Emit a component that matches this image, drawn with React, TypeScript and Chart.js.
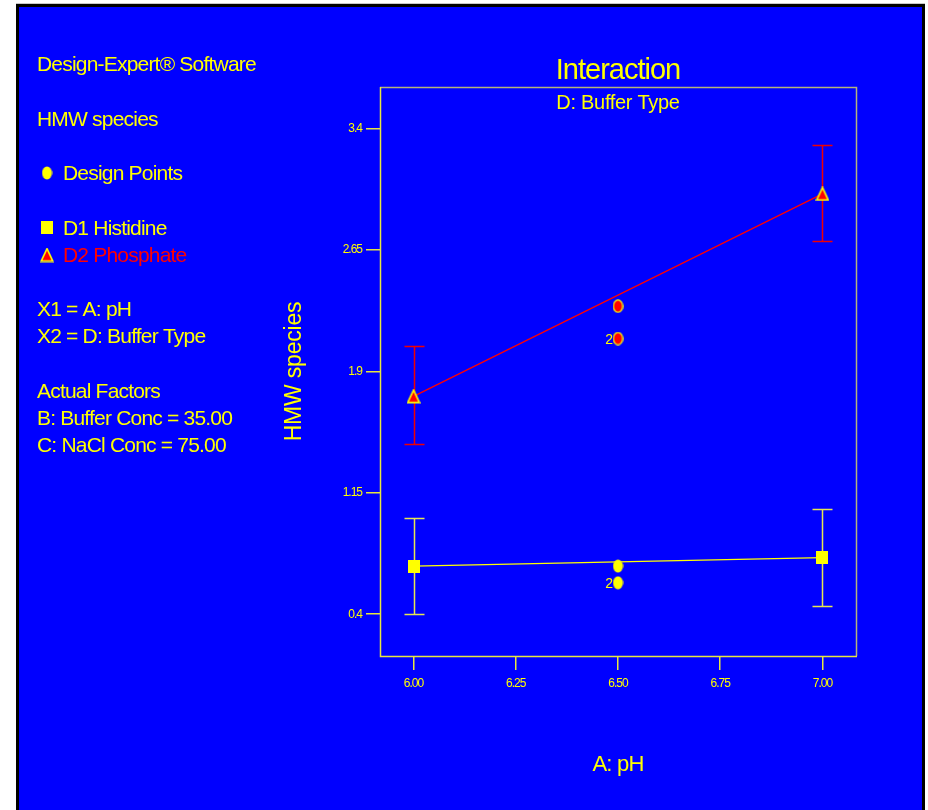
import React, { useEffect, useRef } from "react";
import { Chart, registerables } from "chart.js";

Chart.register(...registerables);

// ---------------- data ----------------
const phLevels = [6.0, 7.0];
const histidineMean = [0.697, 0.749];
const histidineLow = [0.4, 0.452];
const histidineHigh = [0.996, 1.047];
const phosphateMean = [1.745, 2.995];
const phosphateLow = [1.449, 2.702];
const phosphateHigh = [2.054, 3.295];

const designPh = [6.5, 6.5];
const histidineDesign = [0.697, 0.594];
const phosphateDesign = [2.302, 2.102];
const designCounts = [1, 2];

const xTicks = [6.0, 6.25, 6.5, 6.75, 7.0];
const xTickLabels = ["6.00", "6.25", "6.50", "6.75", "7.00"];
const yTicks = [0.4, 1.15, 1.9, 2.65, 3.4];
const yTickLabels = ["0.4", "1.15", "1.9", "2.65", "3.4"];
const xRange = [5.918, 7.082];
const yRange = [0.142, 3.655];

const chartTitle = "Interaction";
const chartSubtitle = "D: Buffer Type";
const xAxisTitle = "A: pH";
const yAxisTitle = "HMW species";
const softwareLine = "Design-Expert\u00AE Software";
const responseLine = "HMW species";
const designPointsLabel = "Design Points";
const histidineLabel = "D1 Histidine";
const phosphateLabel = "D2 Phosphate";
const factorLines = ["X1 = A: pH", "X2 = D: Buffer Type"];
const actualFactorLines = ["Actual Factors", "B: Buffer Conc = 35.00", "C: NaCl Conc = 75.00"];

// ---------------- styles ----------------
const W = 928;
const H = 810;
const FONT = '"Liberation Sans", Arial, sans-serif';
const YELLOW = "#ffff00";
const RED = "#ff0000";
const BLUE = "#0000ff";

function makeMarker(w: number, h: number, draw: (c: CanvasRenderingContext2D) => void) {
  const c = document.createElement("canvas");
  c.width = w;
  c.height = h;
  const g = c.getContext("2d")!;
  draw(g);
  return c;
}

const ellipseYellow = makeMarker(11, 14, (g) => {
  g.fillStyle = YELLOW;
  g.beginPath();
  g.ellipse(5.5, 7, 5, 6.5, 0, 0, Math.PI * 2);
  g.fill();
});
const ellipseRed = makeMarker(11, 14, (g) => {
  g.fillStyle = RED;
  g.strokeStyle = YELLOW;
  g.lineWidth = 1.3;
  g.beginPath();
  g.ellipse(5.5, 7, 4.6, 6.1, 0, 0, Math.PI * 2);
  g.fill();
  g.stroke();
});
const squareYellow = makeMarker(12, 13, (g) => {
  g.fillStyle = YELLOW;
  g.fillRect(0, 0, 12, 13);
});
const triangleRed = makeMarker(14, 15, (g) => {
  g.fillStyle = RED;
  g.strokeStyle = YELLOW;
  g.lineWidth = 1.6;
  g.beginPath();
  g.moveTo(7, 1.2);
  g.lineTo(12.8, 13.6);
  g.lineTo(1.2, 13.6);
  g.closePath();
  g.fill();
  g.stroke();
});

const backgroundPlugin = {
  id: "bgFrame",
  beforeDraw(chart: any) {
    const ctx = chart.ctx;
    ctx.save();
    ctx.fillStyle = "#ffffff";
    ctx.fillRect(0, 0, W, H);
    ctx.fillStyle = "#c8c8c8";
    ctx.fillRect(16, 3, 909, 1);
    ctx.fillStyle = "#000000";
    ctx.fillRect(16, 4, 909, H - 4);
    ctx.fillStyle = BLUE;
    ctx.fillRect(19, 7, 903, H - 7);
    ctx.restore();
    ctx.letterSpacing = "-1px";
  },
};

const errorBarPlugin = {
  id: "errorBars",
  beforeDatasetsDraw(chart: any) {
    const ctx = chart.ctx;
    const xs = chart.scales.x;
    const ys = chart.scales.y;
    const groups = [
      { low: histidineLow, high: histidineHigh, color: "#e6e650" },
      { low: phosphateLow, high: phosphateHigh, color: "#f00000" },
    ];
    ctx.save();
    groups.forEach((g) => {
      ctx.strokeStyle = g.color;
      ctx.lineWidth = 1.5;
      phLevels.forEach((v, i) => {
        const x = Math.round(xs.getPixelForValue(v)) + 0.5;
        const y1 = Math.round(ys.getPixelForValue(g.high[i])) + 0.5;
        const y2 = Math.round(ys.getPixelForValue(g.low[i])) + 0.5;
        ctx.beginPath();
        ctx.moveTo(x, y1);
        ctx.lineTo(x, y2);
        ctx.moveTo(x - 10, y1);
        ctx.lineTo(x + 10, y1);
        ctx.moveTo(x - 10, y2);
        ctx.lineTo(x + 10, y2);
        ctx.stroke();
      });
    });
    ctx.restore();
  },
  afterDatasetsDraw(chart: any) {
    const ctx = chart.ctx;
    ctx.save();
    ctx.letterSpacing = "0px";
    ctx.fillStyle = YELLOW;
    ctx.font = `14px ${FONT}`;
    ctx.textAlign = "right";
    ctx.textBaseline = "alphabetic";
    [0, 1].forEach((di) => {
      const meta = chart.getDatasetMeta(di);
      meta.data.forEach((pt: any, i: number) => {
        if (designCounts[i] > 1) {
          ctx.fillText(String(designCounts[i]), pt.x - 5, pt.y + 5.5);
        }
      });
    });
    ctx.restore();
  },
};

const textPlugin = {
  id: "texts",
  afterDraw(chart: any) {
    const ctx = chart.ctx;
    const a = chart.chartArea;
    ctx.save();
    // frame around plot
    ctx.lineWidth = 1.5;
    ctx.strokeStyle = "#b4b47c";
    ctx.beginPath();
    ctx.moveTo(a.left, a.top + 0.5);
    ctx.lineTo(a.right + 0.5, a.top + 0.5);
    ctx.lineTo(a.right + 0.5, a.bottom);
    ctx.stroke();
    ctx.strokeStyle = "#e6e640";
    ctx.beginPath();
    ctx.moveTo(a.left + 0.5, a.top);
    ctx.lineTo(a.left + 0.5, a.bottom + 0.5);
    ctx.lineTo(a.right + 1, a.bottom + 0.5);
    ctx.stroke();

    const cx = (a.left + a.right) / 2;
    const cy = (a.top + a.bottom) / 2;
    ctx.fillStyle = YELLOW;
    ctx.textBaseline = "alphabetic";
    ctx.textAlign = "center";
    ctx.font = `29px ${FONT}`;
    ctx.letterSpacing = "-1px";
    ctx.fillText(chartTitle, cx, 78.5);
    ctx.font = `20px ${FONT}`;
    ctx.letterSpacing = "-0.3px";
    ctx.fillText(chartSubtitle, cx, 108.5);
    ctx.font = `22px ${FONT}`;
    ctx.letterSpacing = "-0.8px";
    ctx.fillText(xAxisTitle, cx, 771);
    ctx.save();
    ctx.translate(301, cy);
    ctx.rotate(-Math.PI / 2);
    ctx.font = `23px ${FONT}`;
    ctx.letterSpacing = "-0.2px";
    ctx.fillText(yAxisTitle, 0, 0);
    ctx.restore();

    // side annotation
    ctx.textAlign = "left";
    ctx.font = `21px ${FONT}`;
    ctx.letterSpacing = "-0.8px";
    ctx.fillText(softwareLine, 37, 70.5);
    ctx.fillText(responseLine, 37, 125.5);
    ctx.fillText(designPointsLabel, 63, 179.5);
    ctx.fillText(histidineLabel, 63, 234.5);
    ctx.fillStyle = RED;
    ctx.fillText(phosphateLabel, 63, 261.5);
    ctx.fillStyle = YELLOW;
    factorLines.forEach((t, i) => ctx.fillText(t, 37, 315.5 + i * 27));
    actualFactorLines.forEach((t, i) => ctx.fillText(t, 37, 397.5 + i * 27));
    ctx.drawImage(ellipseYellow, 41.5, 166);
    ctx.drawImage(squareYellow, 41, 220.5);
    ctx.drawImage(triangleRed, 40, 247.5);
    ctx.restore();
  },
};

export default function App() {
  const ref = useRef<HTMLCanvasElement | null>(null);

  useEffect(() => {
    if (!ref.current) return;
    const toPts = (xs: number[], ys: number[]) => xs.map((x, i) => ({ x, y: ys[i] }));
    const chart = new Chart(ref.current, {
      type: "scatter",
      data: {
        datasets: [
          {
            label: "Phosphate design points",
            data: toPts(designPh, phosphateDesign),
            pointStyle: ellipseRed as any,
            pointRadius: 6,
            showLine: false,
            order: 0,
          },
          {
            label: "Histidine design points",
            data: toPts(designPh, histidineDesign),
            pointStyle: ellipseYellow as any,
            pointRadius: 6,
            showLine: false,
            order: 0,
          },
          {
            label: histidineLabel,
            type: "line",
            data: toPts(phLevels, histidineMean),
            borderColor: YELLOW,
            borderWidth: 1.3,
            pointStyle: squareYellow as any,
            pointRadius: 6,
            showLine: true,
            order: 1,
          },
          {
            label: phosphateLabel,
            type: "line",
            data: toPts(phLevels, phosphateMean),
            borderColor: RED,
            borderWidth: 1.3,
            pointStyle: triangleRed as any,
            pointRadius: 6,
            showLine: true,
            order: 1,
          },
        ] as any,
      },
      options: {
        responsive: false,
        animation: false,
        devicePixelRatio: 1,
        events: [],
        layout: {
          autoPadding: false,
          padding: { left: 280, right: 72, top: 87, bottom: 54 },
        } as any,
        plugins: {
          legend: { display: false },
          tooltip: { enabled: false },
          title: { display: false },
        },
        scales: {
          x: {
            type: "linear",
            min: xRange[0],
            max: xRange[1],
            afterBuildTicks: (s: any) => {
              s.ticks = xTicks.map((v) => ({ value: v }));
            },
            afterFit: (s: any) => {
              s.height = 100;
            },
            border: { display: false },
            grid: {
              drawOnChartArea: false,
              drawTicks: true,
              tickLength: 14,
              color: "#e6e640",
              lineWidth: 1.5,
            },
            ticks: {
              color: YELLOW,
              padding: 6,
              maxRotation: 0,
              autoSkip: false,
              font: { family: FONT, size: 12 },
              callback: (_v: any, i: number) => xTickLabels[i],
            },
          },
          y: {
            type: "linear",
            min: yRange[0],
            max: yRange[1],
            afterBuildTicks: (s: any) => {
              s.ticks = yTicks.map((v) => ({ value: v }));
            },
            afterFit: (s: any) => {
              s.width = 100;
            },
            border: { display: false },
            grid: {
              drawOnChartArea: false,
              drawTicks: true,
              tickLength: 14,
              color: "#e6e640",
              lineWidth: 1.5,
            },
            ticks: {
              color: YELLOW,
              padding: 4,
              autoSkip: false,
              font: { family: FONT, size: 12 },
              callback: (_v: any, i: number) => yTickLabels[i],
            },
          },
        },
      } as any,
      plugins: [backgroundPlugin, errorBarPlugin, textPlugin],
    });
    return () => chart.destroy();
  }, []);

  return (
    <div style={{ position: "absolute", left: 0, top: 0, width: W, height: H }}>
      <canvas ref={ref} width={W} height={H} style={{ width: W, height: H, display: "block" }} />
    </div>
  );
}
